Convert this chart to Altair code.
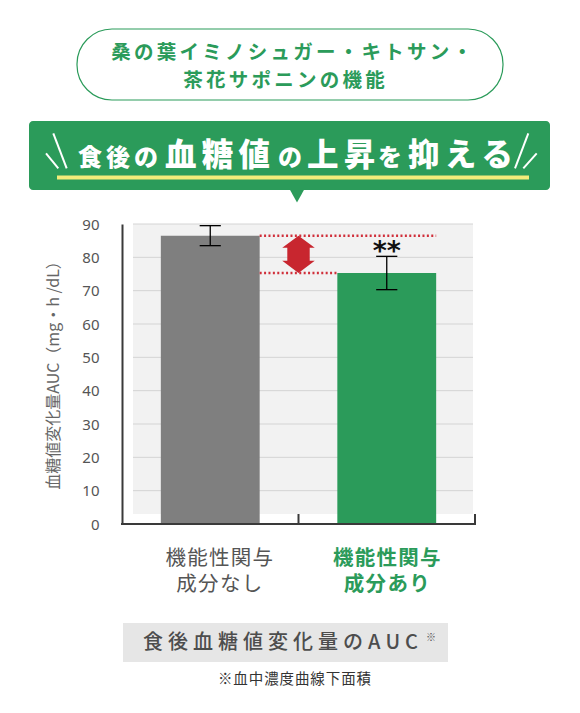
import altair as alt
import pandas as pd

# ---------------- data ----------------
categories = ["機能性関与\n成分なし", "機能性関与\n成分あり"]
means = [86.5, 75.3]
errors = [3.0, 5.0]
sig_marks = ["", "**"]
y_ticks = [0, 10, 20, 30, 40, 50, 60, 70, 80, 90]
grid_values = [10, 20, 30, 40, 50, 60, 70, 80, 90]

header_lines = ["桑の葉イミノシュガー・キトサン・", "茶花サポニンの機能"]
banner_parts = ["食後の", "血糖値", "の", "上昇", "を", "抑える"]
y_title = "血糖値変化量AUC（mg・h /dL）"
footer_title = "食後血糖値変化量のAUC"
footer_mark = "※"
footnote = "※血中濃度曲線下面積"

# ---------------- styles ----------------
GREEN = "#2b9b5a"
GRAY_BAR = "#7f7f7f"
RED_LINE = "#d02f3a"
RED_ARROW = "#c8262f"
TXT = "#555555"
JP = "Noto Sans CJK JP"
W, H = 353, 300
HALF = 0.28
CAP = 0.06
YMAX = 90


def spaced(s, sp="\u2006"):
    return "\n".join(sp.join(line) for line in s.split("\n"))


df = pd.DataFrame({
    "cat": categories,
    "label": [spaced(c, "\u200a") for c in categories],
    "mean": means,
    "err": errors,
    "sig": sig_marks,
})
df["idx"] = range(len(categories))
df["pos"] = df["idx"] + 0.5

ann = pd.DataFrame({
    "xa": [df["pos"][0] + HALF, df["pos"][0] + HALF],
    "xb": [df["pos"][1] + HALF, df["pos"][1] - HALF],
    "yv": [means[0], means[1]],
})
arrow_df = pd.DataFrame({"xm": [(df["pos"][0] + df["pos"][1]) / 2],
                         "ym": [(means[0] + means[1]) / 2]})
arrow_len = (means[0] - means[1]) * H / YMAX
ARROW = ("M0,-1L0.87,-0.35L0.6,-0.35L0.6,0.35L0.87,0.35L0,1L-0.87,0.35"
         "L-0.6,0.35L-0.6,-0.35L-0.87,-0.35Z")
TRI = "M-1,-1L1,-1L0,0.8Z"

one = pd.DataFrame({"k": [0]})
XSC = alt.Scale(domain=[0, 2], nice=False, zero=False)
YSC = alt.Scale(domain=[0, YMAX], nice=False, zero=True)
YAX = alt.Axis(values=y_ticks, ticks=False, tickSize=0, labelPadding=23,
               labelFontSize=15, labelColor=TXT, labelFont="Noto Sans",
               domainColor="#3a3a3a", domainWidth=2, grid=False, title=None)


def X(f):
    return alt.X(f, type="quantitative", scale=XSC, axis=None)


def Y(f):
    return alt.Y(f, type="quantitative", scale=YSC, axis=YAX)


def box(x, x2, y, y2, **kw):
    return alt.Chart(one).mark_rect(**kw).encode(
        x=alt.value(x), x2=alt.value(x2), y=alt.value(y), y2=alt.value(y2))


def line(x, y, x2, y2, **kw):
    return alt.Chart(one).mark_rule(**kw).encode(
        x=alt.value(x), y=alt.value(y), x2=alt.value(x2), y2=alt.value(y2))


def label(text, x, y, **kw):
    return alt.Chart(one).mark_text(text=text, **kw).encode(
        x=alt.value(x), y=alt.value(y))


layers = []

# header pill
layers.append(box(-45, 381, -195, -124, fill="white", stroke=GREEN,
                  strokeWidth=1.2, cornerRadius=35))
layers.append(label(spaced(header_lines[0]), 169.5, -165.4, font=JP, fontSize=19.5,
                    fontWeight="bold", color=GREEN, align="center", baseline="alphabetic"))
layers.append(label(spaced(header_lines[1]), 162, -137, font=JP, fontSize=19.5,
                    fontWeight="bold", color=GREEN, align="center", baseline="alphabetic"))

# banner
layers.append(box(-93, 428, -103, -34, fill=GREEN, cornerRadius=4))
layers.append(alt.Chart(one).mark_point(shape=TRI, filled=True, size=225, opacity=1,
                                        color=GREEN, strokeWidth=0)
              .encode(x=alt.value(175), y=alt.value(-27.5)))
layers.append(box(-65, 407, -48.5, -44.5, fill="#f3ec7a"))
for (a, b, c, d) in [(-68.7, -90.7, -55.3, -55.7), (-76, -70.7, -63.7, -55.7),
                     (406.3, -90.7, 393, -55.7), (414.7, -70.7, 401.3, -55.7)]:
    layers.append(line(a, b, c, d, color="white", strokeWidth=2))
banner_x = [-44, 43, 156, 185, 256, 286]
banner_big = [False, True, False, True, False, True]
for part, bx, big in zip(banner_parts, banner_x, banner_big):
    layers.append(label(spaced(part), bx, -58, font=JP, fontSize=31.5 if big else 24,
                        fontWeight=900, color="white", align="left",
                        baseline="alphabetic"))

# plot background + grid
layers.append(box(11, 351, 0, 290, fill="#f2f2f2"))
layers.append(alt.Chart(pd.DataFrame({"g": grid_values})).mark_rule(
    color="#d4d4d4", strokeWidth=1).encode(y=Y("g"), x=alt.value(11), x2=alt.value(351)))

base = alt.Chart(df).transform_calculate(
    x0=f"datum.pos - {HALF}", x1=f"datum.pos + {HALF}",
    c0=f"datum.pos - {CAP}", c1=f"datum.pos + {CAP}",
    lo="datum.mean - datum.err", hi="datum.mean + datum.err")

layers.append(base.mark_rect().encode(
    x=X("x0:Q"), x2="x1:Q", y=Y("mean:Q"), y2=alt.value(H),
    color=alt.Color("cat:N", scale=alt.Scale(domain=categories, range=[GRAY_BAR, GREEN]),
                    legend=None)))
layers.append(base.mark_rule(color="black", strokeWidth=1.3).encode(
    x=X("pos:Q"), y=Y("lo:Q"), y2="hi:Q"))
layers.append(base.mark_rule(color="black", strokeWidth=1.3).encode(
    x=X("c0:Q"), x2="c1:Q", y=Y("lo:Q")))
layers.append(base.mark_rule(color="black", strokeWidth=1.3).encode(
    x=X("c0:Q"), x2="c1:Q", y=Y("hi:Q")))

# dotted comparison lines + arrow
layers.append(alt.Chart(ann).mark_rule(color=RED_LINE, strokeWidth=2.5,
                                       strokeDash=[2, 2.4]).encode(
    x=X("xa:Q"), x2="xb:Q", y=Y("yv:Q")))
layers.append(alt.Chart(arrow_df).mark_point(shape=ARROW, filled=True, opacity=1,
                                             size=arrow_len ** 2, color=RED_ARROW,
                                             strokeWidth=0).encode(
    x=X("xm:Q"), y=Y("ym:Q")))

# significance
layers.append(base.mark_text(font="DejaVu Sans", fontWeight="bold", fontSize=27,
                             color="#111111", align="center", baseline="alphabetic",
                             dy=4).encode(x=X("pos:Q"), y=Y("hi:Q"), text="sig:N"))

# x axis line and ticks
layers.append(line(-1, H, W + 1, H, color="#3a3a3a", strokeWidth=2))
layers.append(alt.Chart(pd.DataFrame({"t": [1, 2]})).mark_rule(
    color="#3a3a3a", strokeWidth=2).encode(x=X("t:Q"), y=alt.value(H - 10), y2=alt.value(H)))

# category labels
layers.append(base.transform_filter("datum.idx == 0").mark_text(
    font=JP, fontSize=20.5, color=TXT, align="center", baseline="alphabetic",
    lineBreak="\n", lineHeight=25.5, dx=9).encode(
    x=X("pos:Q"), y=alt.value(341), text="label:N"))
layers.append(base.transform_filter("datum.idx == 1").mark_text(
    font=JP, fontSize=20.5, fontWeight="bold", color=GREEN, align="center",
    baseline="alphabetic", lineBreak="\n", lineHeight=25.5).encode(
    x=X("pos:Q"), y=alt.value(341), text="label:N"))

# y title
layers.append(label(y_title, -68, 147.5, font=JP, fontSize=16, color="#666666",
                    angle=270, align="center", baseline="middle"))

# footer
layers.append(box(1, 326, 399, 438, fill="#e6e6e6"))
layers.append(label(spaced(footer_title, "\u2005"), 21, 425, font=JP, fontSize=20,
                    fontWeight=500, color="#4d4d4d", align="left", baseline="alphabetic"))
layers.append(label(footer_mark, 304, 417, font=JP, fontSize=10, color=TXT,
                    align="left", baseline="alphabetic"))
layers.append(label(spaced(footnote, "\u200a"), 172.5, 460, font=JP, fontSize=14.5,
                    color="#333333", align="center", baseline="alphabetic"))

chart = alt.layer(*layers).properties(
    width=W, height=H,
    padding={"left": 114, "top": 216, "right": 97, "bottom": 178},
    autosize=alt.AutoSizeParams(type="none"),
    background="white",
).configure_view(stroke="transparent")

chart.save("out.html", embed_options={"renderer": "svg", "actions": False})
